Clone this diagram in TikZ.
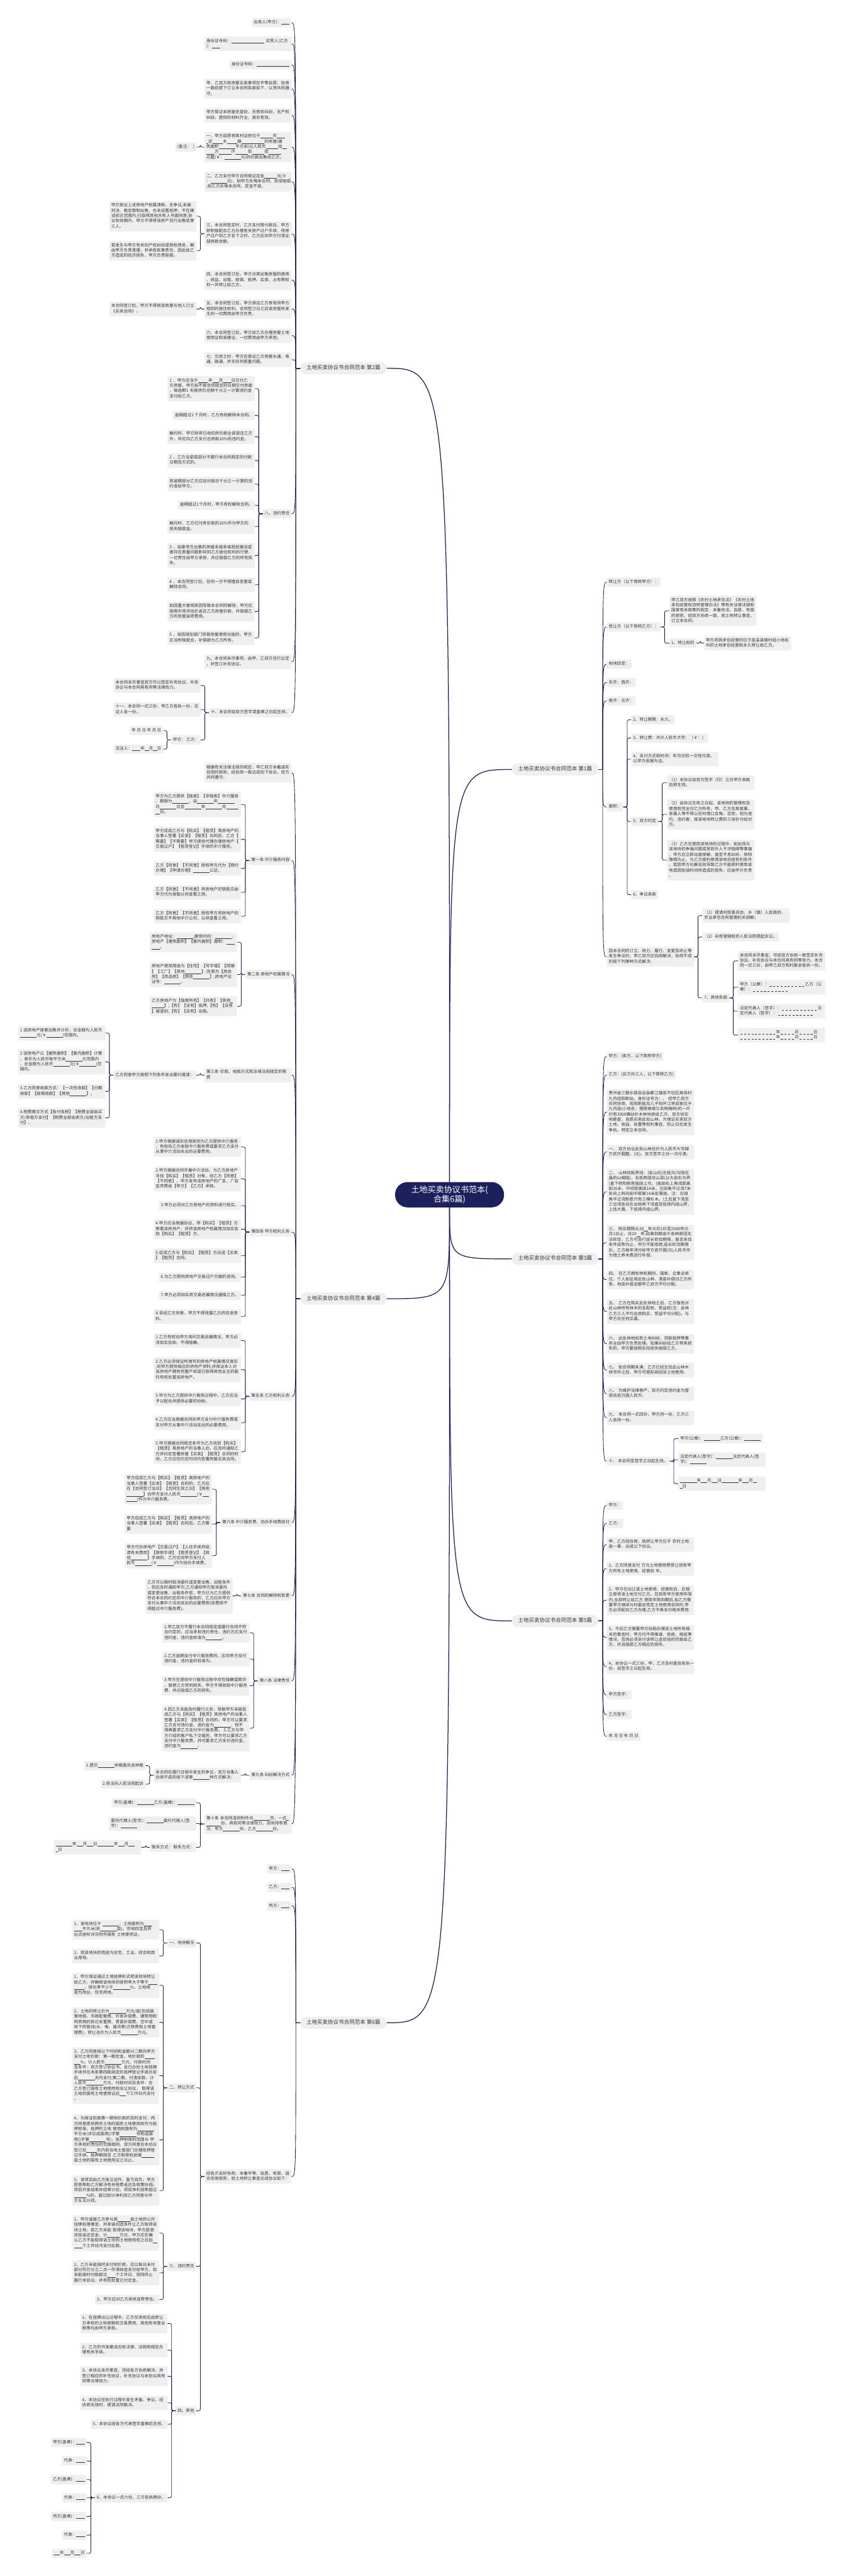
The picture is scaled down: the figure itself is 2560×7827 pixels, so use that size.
\documentclass[tikz,border=0pt]{standalone}
\usepackage{fontspec}
\setmainfont{Noto Sans CJK SC}
\setlength{\parindent}{0pt}
\definecolor{navy}{RGB}{28,33,94}
\definecolor{boxgray}{RGB}{239,239,239}
\definecolor{ink}{RGB}{51,51,51}
\newdimen\bkw \bkw=6.3pt
\newcommand{\bk}[1]{\rule[-1.8pt]{#1\bkw}{0.7pt}}
\newcommand{\dk}[1]{\mbox{\leaders\hbox to 11pt{\hss\rule[-1.8pt]{6pt}{0.7pt}\hss}\hskip #1\dimexpr 11pt\relax}}
\begin{document}
\begin{tikzpicture}[x=1pt,y=1pt,yscale=-1,
  every node/.style={text=ink},
  leaf/.style={fill=boxgray, rounded corners=4pt, inner xsep=6pt, inner ysep=6pt, align=left,
    font=\fontsize{12.6}{16}\selectfont, execute at begin node=\strut, execute at end node=\strut},
  para/.style={leaf, text width=253pt},
  tagl/.style={leaf, anchor=east}, tagr/.style={leaf, anchor=west},
  txtl/.style={para, anchor=east}, txtr/.style={para, anchor=west},
  sect/.style={fill=boxgray, rounded corners=18pt, inner xsep=19pt, inner ysep=8.5pt,
    font=\fontsize{16.3}{20}\selectfont, execute at begin node=\strut, execute at end node=\strut},
  root/.style={fill=navy, text=white, rounded corners=38pt, minimum width=331pt, minimum height=77pt,
    align=center, font=\fontsize{25}{30}\selectfont},
  lk/.style={draw=navy, line width=1.6pt},
  brk/.style={lk, rounded corners=5pt},
  trunk/.style={draw=navy, line width=2.4pt}]

\fill[white] (0,0) rectangle (2560,7827);
\useasboundingbox (0,0) rectangle (2560,7827);

% Text Node
\node[root] (root) at (1365.5,3630) {土地买卖协议书范本(\\合集6篇)};
\node[sect] (p2) at (1043,1119) {土地买卖协议书合同范本 第2篇};
\node[sect] (p4) at (1043,3946) {土地买卖协议书合同范本 第4篇};
\node[sect] (p6) at (1043,6146) {土地买卖协议书合同范本 第6篇};
\node[sect] (p1) at (1686,2338) {土地买卖协议书合同范本 第1篇};
\node[sect] (p3) at (1686,3825) {土地买卖协议书合同范本 第3篇};
\node[sect] (p5) at (1686,4925) {土地买卖协议书合同范本 第5篇};

% ---- 第2篇
\node[tagl] (p2a) at (886,69) {出卖人(甲方)：\bk{4}};
\node[txtl] (p2b) at (886,133) {身份证号码：\bk{16}~买受人(乙方\\)：\bk{4}};
\node[tagl] (p2c) at (886,197) {身份证号码：\bk{16}};
\node[txtl] (p2d) at (886,270) {甲、乙双方就房屋买卖事项在平等自愿，协商\\一致前提下订立本合同条款如下，以资共同遵\\守。};
\node[txtl] (p2e) at (886,350.5) {甲方保证本房屋无查封、无债务纠纷，无产权\\纠纷，提供的材料齐全、真实有效。};
\node[txtl] (p2f) at (886,447) {一、甲方自愿将其村证房位于\bk{6}市\bk{4}\\\bk{1}区\bk{5}乡\bk{5}路\bk{11}的房屋(建\\筑面积\bk{8}平方米)以人民币\bk{6}拾\bk{2}\\\bk{4}万\bk{6}仟\bk{6}佰\bk{6}拾\bk{6}\\元整(￥：\bk{8}元)的价款出售给乙方。};
\node[tagl] (p2fa) at (597,447) {(备注：~~)};
\node[txtl] (p2g) at (886,552) {二、乙方支付甲方合同保证定金\bk{6}元(￥\\：\bk{8}元)，如甲方反悔本合同，双倍赔偿\\;如乙方反悔本合同，定金不退。};
\node[txtl] (p2h) at (886,710.5) {三、本合同签定时，乙方支付首付款后，甲方\\即积极配合乙方办理有关房产过户手续，待房\\产过户到乙方名下之时，乙方应向甲方付清全\\部房款余额。};
\node[txtl] (p2ha) at (597,657) {甲方保证上述房地产权属清晰，无争议;未被\\判决、裁定限制出售，也未设置抵押，不在建\\设拆迁范围内;已取得其他共有人书面同意;协\\议有效期内，甲方不得将该房产另行出售给第\\三人。};
\node[txtl] (p2hb) at (597,762) {若发生与甲方有关的产权纠纷或债权债务，概\\由甲方负责清理，并承担民事责任，因此给乙\\方造成的经济损失，甲方负责赔偿。};
\node[txtl] (p2i) at (886,851) {四、本合同签订后，甲方对其出售房屋的使用\\、收益、出租、担保、抵押、买卖、占有等权\\利一并转让给乙方。};
\node[txtl] (p2j) at (886,939) {五、本合同签订后，甲方保证乙方享有同甲方\\相同的居住权利，合同签订日之后该房屋所发\\生的一切费用由甲方负责。};
\node[txtl] (p2ja) at (597,939) {本合同签订后，甲方不得就该房屋与他人订立\\《买卖合同》。};
\node[txtl] (p2k) at (886,1020) {六、本合同签订后，甲方给乙方办理房屋土地\\使用证和准建证，一切费用由甲方承担。};
\node[txtl] (p2l) at (886,1093) {七、交房之时，甲方应保证乙方房屋水通，电\\通，路通，并无任何质量问题。};
\node[tagl] (p2m) at (886,1561) {八、违约责任};
\node[txtl] (p2ma) at (774,1181) {1~、甲方应当于\bk{5}年\bk{3}月\bk{4}日交付乙\\方房屋，甲方如不按合同规定的日期交付房屋\\，每逾期1~天按房价总额千分之一计算违约金\\支付给乙方。};
\node[tagl] (p2mb) at (774,1262) {逾期超过1~个月时，乙方有权解除本合同。};
\node[txtl] (p2mc) at (774,1327) {解约时，甲方除将已收的房价款全部退还乙方\\外，并应向乙方支付总房款10\%的违约金。};
\node[txtl] (p2md) at (774,1399) {2~、乙方全部或部分不履行本合同规定的付款\\日期及方式的。};
\node[txtl] (p2me) at (774,1471) {其逾期部分乙方应加付按日千分之一计算的违\\约金给甲方。};
\node[tagl] (p2mf) at (774,1535) {逾期超过1个月时，甲方有权解除合同。};
\node[txtl] (p2mg) at (774,1600) {解约时，乙方已付房价款的10\%作为甲方的\\损失赔偿金。};
\node[txtl] (p2mh) at (774,1688) {3~、如果甲方出售的房屋未按承诺规划建设或\\者存在质量问题影响到乙方居住权利的行使，\\一切责任由甲方承担，并应赔偿乙方的所有损\\失。};
\node[txtl] (p2mi) at (774,1777) {4~、本合同签订后，任何一方不得擅自变更或\\解除合同。};
\node[txtl] (p2mj) at (774,1858) {如因重大客观原因导致本合同的解除，甲方应\\按照市场评估价返还乙方房屋价款，并赔偿乙\\方的房屋装修费用。};
\node[txtl] (p2mk) at (774,1938) {5~、如因规划部门导致房屋使用功能的，甲方\\应当积极配合，补偿款为乙方所有。};
\node[txtl] (p2n) at (886,2011) {九、本合同未尽事项，由甲、乙双方另行议定\\，并签订补充协议。};
\node[tagl] (p2o) at (886,2165.5) {十、本合同自双方签字或盖章之日起生效。};
\node[txtl] (p2oa) at (610,2083) {本合同未尽事宜双方可以签定补充协议，补充\\协议与本合同具有同等法律效力。};
\node[txtl] (p2ob) at (610,2156) {十一、本合同一式三份，甲乙方各执一份，见\\证人各一份。};
\node[tagl] (p2oc) at (610,2248) {甲方：~乙方：};
\node[tagl] (p2oca) at (496,2220) {年~月~日~年~月~日};
\node[tagl] (p2ocb) at (496,2276) {见证人：\bk{4}年\bk{2}月\bk{2}日};

% ---- 第1篇
\node[tagr] (p1a) at (1843,1769) {转让方（以下简称甲方）：};
\node[tagr] (p1b) at (1843,1905) {受让方（以下简称乙方）：};
\node[txtr] (p1ba) at (2033,1856) {甲乙双方按照《农村土地承包法》《农村土地\\承包经营权流转管理办法》等有关法律法规和\\国家有关政策的规定，本着依法、自愿、有偿\\的原则，经双方协商一致，就土地转让事宜，\\订立本合同。};
\node[tagr] (p1bb) at (2033,1954) {1、转让标的};
\node[txtr] (p1bba) at (2138,1954) {甲方将其承包经营的位于巫溪县镇村组小地名\\叫的土地承包经营权永久转让给乙方。};
\node[tagr] (p1c) at (1843,2018) {地块四至：};
\node[tagr] (p1d) at (1843,2074) {东齐：西齐：};
\node[tagr] (p1e) at (1843,2130) {南齐：北齐：};
\node[tagr] (p1f) at (1843,2452) {面积：};
\node[tagr] (p1fa) at (1917,2187) {2、转让期限：永久。};
\node[tagr] (p1fb) at (1917,2242.6) {3、转让费：共计人民币大写：（￥：）};
\node[txtr] (p1fc) at (1917,2306.5) {4、支付方式和时间：年月日前一次性付清。\\以甲方收据为证。};
\node[tagr] (p1fd) at (1917,2496) {5、双方约定};
\node[txtr] (p1fda) at (2026,2378.5) {（1）本协议自双方签字（印）之日甲方收款\\后即生效。};
\node[txtr] (p1fdb) at (2026,2474.5) {（2）自协议生效之日起，该地块的管理权及\\使用权完全归乙方所有，甲、乙方及其家属、\\亲属人等不得以任何借口反悔，否则，视为违\\约。违约者，按该地块转让费的三倍价付给对\\方。};
\node[txtr] (p1fdc) at (2026,2613.5) {（3）乙方在使用该地块的过程中，如出现与\\该地块的争端问题或受到外人干涉阻碍等事端\\，甲方应立即出面排解，直至平息纠纷，排除\\障碍为止，为乙方顺利使用该地创造有利条件\\。若因甲方化解无效导致乙方不能顺利使用该\\地或因贻误时间所造成的损失，应由甲方负责\\。};
\node[tagr] (p1fe) at (1917,2718.5) {6、争议条款};
\node[txtr] (p1g) at (1843,2907) {因本合同的订立、效力、履行、变更及终止等\\发生争议时，甲乙双方应协商解决，协商不成\\的按下列第种方式解决：};
\node[txtr] (p1ga) at (2133,2782) {（1）提请村民委员会、乡（镇）人民政府、\\农业承包合同管理机关调解；};
\node[tagr] (p1gb) at (2133,2847) {（2）向有管辖权的人民法院提起诉讼。};
\node[tagr] (p1gc) at (2133,3032) {7、其他条款};
\node[txtr] (p1gca) at (2241,2919.6) {本合同未尽事宜，可经双方协商一致签定补充\\协议。补充协议与本合同具有同等效力。本合\\同一式三份，由甲乙双方和村委会各执一份。};
\node[txtr] (p1gcb) at (2241,2999.6) {甲方（公章）：\dk{10}乙方（公\\章）：\dk{10}};
\node[txtr] (p1gcc) at (2241,3072.6) {法定代表人（签字）：\dk{10}法\\定代表人（签字）：\dk{10}};
\node[txtr] (p1gcd) at (2241,3145) {\dk{10}年\dk{4}月\dk{4}日\\\dk{10}年\dk{4}月\dk{4}日};

% ---- 第3篇
\node[tagr] (p3a) at (1843,3210) {甲方：(卖方，以下简称甲方)};
\node[tagr] (p3b) at (1843,3266) {乙方：(买方共三人，以下简称乙方)};
\node[txtr] (p3c) at (1843,3379) {贵州省三都水族自治县都江镇巫不社区高尧村\\九内组阳新灿，身份证号为：。~经甲乙双方\\共同协商，现阳新能及儿子阳开江将自家位于\\九内组(小地名：摆磅高坡又名杨梅树)的一片\\约有3000棵幼杉木林地卖给乙方，双方经实\\地勘查，自愿买卖此处山林。为保证买卖双方\\土地，收益、处置等权利事宜，防止日后发生\\争执，特定立本合同。};
\node[txtr] (p3d) at (1843,3500) {一、~双方协议此处山林总价为人民币大写肆\\万贰仟圆整。(元)。双方签字之日一次付清。};
\node[txtr] (p3e) at (1843,3621) {二、~山林四抵界线：(坐山向)左抵沟(与阳志\\晶的山相临)，右抵两组坟山梁(以大岩石为界\\)直下转阳新恩独田上坎，(独田右上角湾距离\\田16米，中间距离田14米，左田角平过湾7米\\处向上斜向田中距离14米处靠拢。注：左田\\角平过湾新恩只有三棵杉木。)之后直下湾至\\三岔湾处向左出坳再下湾直至抵排内组山界，\\上抵大路，下抵排内组山界。};
\node[txtr] (p3f) at (1843,3775.6) {三、~购买期限从20\bk{2}年元月1日至2040年元\\月1日止，共20\bk{2}年;如果到期由于各种原因无\\法砍伐，乙方可自行延长砍伐期限，直至采伐\\条件成熟为止，甲方不能拒绝;延长砍伐期限\\后，乙方每年须付给甲方贰仟圆(元)人民币作\\为借土养木费进行补偿。};
\node[txtr] (p3g) at (1843,3888) {四、~在乙方拥有林权期间，国家、企事业单\\位、个人如征用此处山林，清苗补偿归乙方所\\有。地皮补偿总额甲乙双方平均分配。};
\node[txtr] (p3h) at (1843,3985) {五、~乙方在购买此处林地之后，乙方独有对\\此山林所有林木的支配权、受益权(注：此林\\乙方三人平均出资购买，受益平均分配)。与\\甲方无任何瓜葛。};
\node[txtr] (p3i) at (1843,4083) {六、~此处林地如有土地纠纷，贷款抵押等事\\务全由甲方负责处理。如果纠纷给乙方带来损\\失的，甲方要按照实际损失赔偿乙方。};
\node[txtr] (p3j) at (1843,4163) {七、~如合同期未满，乙方已经主伐此山林木\\材完毕之后，甲方可提前收回该土地使用。};
\node[txtr] (p3k) at (1843,4234.6) {八、~为维护法律尊严，双方约定违约金为壹\\佰伍拾万圆人民币。};
\node[txtr] (p3l) at (1843,4307.6) {九、~本合同一式四份，甲方持一份，乙方三\\人各持一份。};
\node[tagr] (p3m) at (1843,4439.6) {十、~本合同至签字之日起生效。};
\node[tagr] (p3ma) at (2060,4371) {甲方(公章)：\bk{8}乙方(公章)：\bk{8}};
\node[txtr] (p3mb) at (2060,4435) {法定代表人(签字)：\bk{8}法定代表人(签\\字)：\bk{8}};
\node[txtr] (p3mc) at (2060,4508) {\bk{8}年\bk{3}月\bk{3}日\bk{8}年\bk{3}月\bk{2}\\\bk{1}日};

% ---- 第5篇
\node[tagr] (p5a) at (1843,4574) {甲方：};
\node[tagr] (p5b) at (1843,4629) {乙方：};
\node[txtr] (p5c) at (1843,4693) {甲、乙方经协商，就转让甲方位于~农村土地\\亩一事，达成以下协议。};
\node[txtr] (p5d) at (1843,4766) {1、乙方同意支付~万元土地使用费受让现有甲\\方所有土地使用、经营权~年。};
\node[txtr] (p5e) at (1843,4862) {2、甲方在出让该土地使用、经营权后，应按\\立即将该土地交付乙方。在现有甲方使用年限\\内,全部转让给乙方.使用年限到期后,如乙方需\\要甲方继续与村委会签定土地使用合同时,甲\\方必须配合乙方办理,乙方不再支付相关费用.};
\node[txtr] (p5f) at (1843,4975) {3、今后乙方需要甲方协助办理该土地所有相\\关的事宜时，甲方均不得推诿、拒绝、拖延等\\情况，否则必须支付该转让金双倍的罚款给乙\\方，并且赔偿乙方相应的损失。};
\node[txtr] (p5g) at (1843,5064) {4、本协议一式三份，甲、乙方及村委会各执一\\份，自签字之日起生效。};
\node[tagr] (p5h) at (1843,5150) {甲方签字：};
\node[tagr] (p5i) at (1843,5210) {乙方签字：};
\node[tagr] (p5j) at (1843,5276) {年~月~日~年~月~日};

% ---- 第4篇
\node[txtl] (p4a) at (886,2348) {根据有关法律法规的规定，甲乙双方本着诚实\\信用的原则，经协商一致达成如下协议，双方\\共同遵守。};
\node[tagl] (p4b) at (886,2614.5) {第一条 中介服务内容};
\node[txtl] (p4ba) at (732,2444.6) {甲方为乙方提供【独家】【非独家】中介服务\\，期限为\bk{8}，自\bk{8}年\bk{8}\\月\bk{8}日至\bk{8}年\bk{8}月\bk{6}\\\bk{2}日。};
\node[txtl] (p4bb) at (732,2550) {甲方促成乙方与【购买】【租赁】其房地产的\\当事人签署【买卖】【租赁】合同后，乙方【\\需要】【不需要】甲方提供代理办理房地产【\\交易过户】【租赁登记】手续的中介服务。};
\node[txtl] (p4bc) at (732,2638.6) {乙方【同意】【不同意】授权甲方代为【预约\\办理】【申请办理】\bk{8}公证。};
\node[txtl] (p4bd) at (732,2711.6) {乙方【同意】【不同意】将房地产的钥匙交由\\甲方代为保管以供查看之用。};
\node[txtl] (p4be) at (732,2784) {乙方【同意】【不同意】授权甲方将房地产的\\钥匙交予其他中介公司，以供查看之用。};
\node[tagl] (p4c) at (886,2961) {第二条 房地产权属情况};
\node[txtl] (p4ca) at (720,2863) {房地产地址：\bk{8};建筑时间：\bk{8};\\房地产【建筑面积】【套内面积】面积：\bk{4}\\\bk{4}。};
\node[txtl] (p4cb) at (720,2961) {房地产使用用途为【住宅】【写字楼】【商铺\\】【工厂】【其他\bk{8}】;性质为【房改\\房】【商品房】【其他\bk{8}】;房地产证\\证号：\bk{8}。};
\node[txtl] (p4cc) at (720,3057.6) {乙方房地产为【独家所有】【共有】【其他\bk{1}\\\bk{6}】;【有】【没有】抵押;【有】【没有\\】被查封;【有】【没有】出租。};
\node[txtl] (p4d) at (886,3266.6) {第三条 价款、收款方式和法律法规规定的税\\费};
\node[tagl] (p4da) at (596,3266.6) {乙方同意甲方按照下列条件发出要约邀请：};
\node[txtl] (p4daa) at (320,3139) {1.该房地产按套出售并计价，总金额为人民币\\\bk{8}元(￥\bk{8})范围内。};
\node[txtl] (p4dab) at (320,3226.6) {2.该房地产以【建筑面积】【套内面积】计算\\，单价为人民币每平方米\bk{8}元范围内\\，总金额为人民币\bk{8}元(￥\bk{8})范\\围内。};
\node[txtl] (p4dac) at (320,3316) {3.乙方同意收款方式：【一次性收款】【分期\\收款】【按揭收款】【其他\bk{8}】。};
\node[txtl] (p4dad) at (320,3396.6) {4.税费缴交方式【各付各税】【税费全部由买\\方/承租方支付】【税费全部由卖方/出租方支\\付】。};
\node[tagl] (p4e) at (886,3743.6) {第四条 甲方权利义务};
\node[txtl] (p4ea) at (732,3485) {1.甲方根据诚实信用原则为乙方提供中介服务\\，有权向乙方收取中介服务费或要求乙方支付\\从事中介活动支出的必要费用。};
\node[txtl] (p4eb) at (732,3582) {2.甲方根据合同开展中介活动，为乙方房地产\\寻找【购买】【租赁】对象，经乙方【同意】\\【不同意】，甲方发布该房地产的广告，广告\\宣传费由【甲方】【乙方】承担。};
\node[tagl] (p4ec) at (732,3663) {3.甲方必须对乙方房地产的资料进行核实。};
\node[txtl] (p4ed) at (732,3735) {4.甲方应当根据协议，带【购买】【租赁】方\\察看该房地产，并将该房地产权属情况如实告\\知【购买】【租赁】方。};
\node[txtl] (p4ee) at (732,3815.5) {5.促成乙方与【购买】【租赁】方达成【买卖\\】【租赁】合同。};
\node[tagl] (p4ef) at (732,3880.6) {6.为乙方提供房地产交易过户方面的咨询。};
\node[tagl] (p4eg) at (732,3936) {7.甲方必须如实将交易进展情况通报乙方。};
\node[txtl] (p4eh) at (732,4000) {8.非经乙方同意，甲方不得泄露乙方的信息资\\料。};
\node[tagl] (p4f) at (886,4242.6) {第五条 乙方权利义务};
\node[txtl] (p4fa) at (732,4073) {1.乙方有权向甲方询问交易进展情况，甲方必\\须如实告知，不得隐瞒。};
\node[txtl] (p4fb) at (732,4161.7) {2.乙方必须保证所填写的房地产权属情况真实\\;向甲方提供相应的房地产资料;并保证本人对\\该房地产拥有完整产权或已取得其他业主的委\\托有权处置该房地产。};
\node[txtl] (p4fc) at (732,4250.5) {3.甲方为乙方提供中介服务过程中，乙方应当\\予以配合并提供必要的协助。};
\node[txtl] (p4fd) at (732,4323) {4.乙方应当根据合同向甲方支付中介服务费或\\支付甲方从事中介活动支出的必要费用。};
\node[txtl] (p4fe) at (732,4410.6) {5.甲方根据合同规定条件为乙方找到【购买】\\【租赁】其房地产的当事人后，应及时通知乙\\方并约定签署房屋【买卖】【租赁】合同的时\\间，乙方应在约定时间内签署房屋买卖合同。};
\node[tagl] (p4g) at (886,4626) {第六条 中介服务费、协办手续费给付};
\node[txtl] (p4ga) at (644,4525) {甲方促成乙方与【购买】【租赁】其房地产的\\当事人签署【买卖】【租赁】合同的，乙方应\\在【合同签订当日】【合同生效之日】【其他\\\bk{8}】向甲方支付人民币\bk{8}(￥\bk{3}\\\bk{5})作为中介服务费。};
\node[txtl] (p4gb) at (644,4630.6) {甲方促成乙方与【购买】【租赁】其房地产的\\当事人签署【买卖】【租赁】合同后，乙方需\\要};
\node[txtl] (p4gc) at (644,4727) {甲方代办房地产【交易过户】【入住手续并结\\清有关费用】【赎契手续】【租赁登记】【其\\他\bk{8}】手续的，乙方应向甲方支付人\\民币\bk{8}(￥\bk{8})作为协办手续费。};
\node[tagl] (p4h) at (886,4849) {第七条 合同的解除和变更};
\node[txtl] (p4ha) at (707,4849) {乙方可以随时取消委托或变更出售、出租条件\\，但应及时通知甲方;乙方通知甲方取消委托\\或变更出售、出租条件前，甲方已为乙方提供\\符合本合同约定的中介服务的，乙方应向甲方\\支付从事中介活动支出的必要费用(该费用不\\得超过中介服务费)。};
\node[tagl] (p4i) at (886,5107) {第八条 法律责任};
\node[txtl] (p4ia) at (758,4961) {1.甲乙双方不履行本合同规定或履行合同不符\\合约定的，应当承担违约责任，违约方应支付\\违约金，违约金标准为\bk{8}。};
\node[txtl] (p4ib) at (758,5041) {2.乙方逾期支付中介服务费的，应向甲方支付\\违约金，违约金的标准为。};
\node[txtl] (p4ic) at (758,5122) {3.甲方在提供中介服务过程中存在隐瞒或欺诈\\，致使乙方受到损失，甲方不得收取中介服务\\费，并应赔偿乙方的损失。};
\node[txtl] (p4id) at (758,5251) {4.因乙方未能及时履行义务，导致甲方未能促\\成乙方与【购买】【租赁】其房地产的当事人\\签署【买卖】【租赁】合同的，甲方可以要求\\乙方支付违约金，违约金为\bk{8}，但不\\得再要求乙方支付中介服务费。~5.乙方与甲\\方介绍的客户私下交易的，甲方可以要求乙方\\支付中介服务费，并可要求乙方支付违约金，\\违约金为\bk{8}。};
\node[tagl] (p4j) at (886,5394) {第九条 纠纷解决方式};
\node[txtl] (p4ja) at (732,5394) {本合同在履行过程中发生的争议，双方当事人\\协商不成的按下述第\bk{8}种方式解决：};
\node[tagl] (p4jaa) at (442,5365) {1.提交\bk{8}仲裁委员会仲裁};
\node[tagl] (p4jab) at (442,5421) {2.依法向人民法院起诉};
\node[txtl] (p4k) at (886,5542) {第十条 本合同连同附件共\bk{8}页，一式\bk{1}\\\bk{7}份，具有同等法律效力，合同持有情\\况：甲方\bk{8}份，乙方\bk{8}份。};
\node[tagl] (p4ka) at (596,5478) {甲方(盖章)：\bk{8}乙方(盖章)：\bk{8}};
\node[txtl] (p4kb) at (596,5540.6) {委托代理人(签字)：\bk{8}委托代理人(签\\字)：\bk{8}};
\node[tagl] (p4kc) at (596,5613) {联系方式：~联系方式：};
\node[txtl] (p4kca) at (429,5613) {\bk{8}年\bk{3}月\bk{3}日\bk{8}年\bk{3}月\bk{3}\\\bk{1}日};

% ---- 第6篇
\node[tagl] (p6a) at (886,5678.6) {甲方：\bk{4}};
\node[tagl] (p6b) at (886,5734.7) {乙方：\bk{4}};
\node[tagl] (p6c) at (886,5791) {丙方：\bk{4}};
\node[txtl] (p6d) at (886,6613) {经各方友好协商，本着平等、自愿、有偿、诚\\实信用原则，就土地转让事宜达成协议如下：};
\node[tagl] (p6da) at (596,5903.6) {一、地块概况};
\node[txtl] (p6daa) at (484,5863) {1、该地块位于~\bk{8}，土地面积为\bk{4}\\\bk{4}平方米(折\bk{8}亩)。宗地四至及界\\址点座标详见附件国有~土地使用证。};
\node[txtl] (p6dab) at (484,5943) {2、现该地块的用途为住宅、工业、综合和商\\业用地。};
\node[tagl] (p6db) at (596,6343.6) {二、转让方式};
\node[txtl] (p6dba) at (484,6032) {1、甲方保证通过土地挂牌形式把该地块转让\\给乙方，并确保该地块的容积率大于等于\bk{4}\\\bk{5}，绿化率不少于\bk{8}\%，土地用\\途为商业、住宅用地。};
\node[txtl] (p6dbb) at (484,6144.6) {2、土地的转让价为\bk{8}万元/亩[包括级\\差地租、市政配套费、开发补偿费、建筑物和\\构筑物的拆迁安置费、青苗补偿费、空中或\\地下的管线(水、电、通讯等)迁移费和土地管\\理费]，转让总价为人民币\bk{8}万元。};
\node[txtl] (p6dbc) at (484,6306.7) {3、乙方同意按以下时间和金额分二期向甲方\\支付土地价款：第一期定金，地价款的\bk{5}\\\bk{3}\%，计人民币\bk{8}万元，付款时间\\及条件：双方签订协议书，且已办好土地挂牌\\手续并在本条第四款规定的抵押登记手续办妥\\后\bk{8}天内支付;第二期，付清余款，计\\人民币\bk{8}万元，付款时间及条件：在\\乙方签订国有土地使用权出让协议，~取得该\\土地的国有土地使用证后\bk{3}个工作日内支付\\。};
\node[txtl] (p6dbd) at (484,6502) {4、为保证前款第一期地价款的及时支付，丙\\方同意提供两宗土地的国有土地使用权作为抵\\押担保，抵押的土地~使用权面积为\bk{8}\\平方米(详见成国用()字第\bk{8}号和成国\\用()字第\bk{8}号)，抵押担保的范围与~甲\\方承担的责任的范围相同。双方同意在本协议\\签订后\bk{5}天内到当地土管部门办理抵押登\\记手续，抵押期限至~乙方取得机投镇\bk{6}\\亩土地的国有土地使用证之日止。};
\node[txtl] (p6dbe) at (484,6656) {5、该项目由乙方独立运作，盈亏自负。甲方\\愿意帮助乙方解决有关税费返还及政策协调。\\项目开发结束并经审计后，项目净利润率超过\\\bk{6}\%的，超过部分净利润乙方同意与甲\\方五五分成。};
\node[tagl] (p6dc) at (596,6886) {三、违约责任};
\node[txtl] (p6dca) at (484,6785) {1、甲方诚邀乙方参与其\bk{6}亩土地的公开\\挂牌处理事宜，并承诺创造条件让乙方取得该\\块土地，若乙方未能~取得该地块，甲方愿意\\双倍返还定金，计\bk{6}万元，甲方应在确\\认乙方不能取得该土块的土地使用权之日起\bk{2}\\\bk{4}个工作日内支付此款。};
\node[txtl] (p6dcb) at (484,6906) {2、乙方未能按时支付地价款，应以每日未付\\部分的万分之二点一作滞纳金支付给甲方。如\\未能按时付款超过\bk{4}个工作日，视同终止\\履行本协议，并有权处置已付定金。};
\node[tagl] (p6dcc) at (484,6987) {3、甲方应对乙方承担连带责任。};
\node[tagl] (p6dd) at (596,7325) {四、其他};
\node[txtl] (p6dda) at (509,7060) {1、在挂牌出让过程中，乙方仅承担应由受让\\方承担的土地契税和交易费用，其他有关营业\\税等均由甲方承担。};
\node[txtl] (p6ddb) at (509,7140.6) {2、乙方的开发建设应依法律、法规和规定办\\理有关手续。};
\node[txtl] (p6ddc) at (509,7220) {3、本协议未尽事宜，须经各方协商解决，并\\签订相应的补充协议，补充协议与本协议具有\\同等法律效力。};
\node[txtl] (p6ddd) at (509,7301) {4、本协议在执行过程中发生矛盾、争议，经\\协商无效时，提请法院裁决。};
\node[tagl] (p6dde) at (509,7366) {5、本协议经各方代表签字盖章后生效。};
\node[tagl] (p6ddf) at (509,7589) {6、本协议一式六份，三方各执两份。};
\node[tagl] (p6ddfa) at (263.5,7421) {甲方(盖章)：\bk{4}};
\node[tagl] (p6ddfb) at (263.5,7477.5) {代表：\bk{4}};
\node[tagl] (p6ddfc) at (263.5,7534) {乙方(盖章)：\bk{4}};
\node[tagl] (p6ddfd) at (263.5,7589.6) {代表：\bk{4}};
\node[tagl] (p6ddfe) at (263.5,7646) {丙方(盖章)：\bk{4}};
\node[tagl] (p6ddff) at (263.5,7703) {代表：\bk{4}};
\node[tagl] (p6ddfg) at (263.5,7758) {\bk{3}年\bk{3}月\bk{3}日};

% Curves from the root
\draw[trunk] (root.north) .. controls (root.north |- p2.east) .. (p2.east);
\draw[trunk] (root.north) .. controls (root.north |- p1.west) .. (p1.west);
\draw[trunk] (root.south) .. controls (root.south |- p4.east) .. (p4.east);
\draw[trunk] (root.south) .. controls (root.south |- p6.east) .. (p6.east);
\draw[trunk] (root.south) .. controls (root.south |- p3.west) .. (p3.west);
\draw[trunk] (root.south) .. controls (root.south |- p5.west) .. (p5.west);

% Section to first level
\foreach \p/\cs in {p2/{a,b,c,d,e,f,g,h,i,j,k,l,m,n,o}, p4/{a,b,c,d,e,f,g,h,i,j,k}, p6/{a,b,c,d}} {
  \coordinate (s) at ([xshift=-13pt]\p.west);
  \foreach \c in \cs
    \draw[lk] (\p.west) -- (s) .. controls (s |- \p\c.east) .. (\p\c.east);
}
\foreach \p/\cs in {p1/{a,b,c,d,e,f,g}, p3/{a,b,c,d,e,f,g,h,i,j,k,l,m}, p5/{a,b,c,d,e,f,g,h,i,j}} {
  \coordinate (s) at ([xshift=13pt]\p.east);
  \foreach \c in \cs
    \draw[lk] (\p.east) -- (s) .. controls (s |- \p\c.west) .. (\p\c.west);
}

% Brackets
\foreach \p/\cs in {p2f/{a}, p2h/{a,b}, p2j/{a}, p2m/{a,b,c,d,e,f,g,h,i,j,k}, p2o/{a,b,c}, p2oc/{a,b},
    p4b/{a,b,c,d,e}, p4c/{a,b,c}, p4d/{a}, p4da/{a,b,c,d}, p4e/{a,b,c,d,e,f,g,h}, p4f/{a,b,c,d,e},
    p4g/{a,b,c}, p4h/{a}, p4i/{a,b,c,d}, p4j/{a}, p4ja/{a,b}, p4k/{a,b,c}, p4kc/{a},
    p6d/{a,b,c,d}, p6da/{a,b}, p6db/{a,b,c,d,e}, p6dc/{a,b,c}, p6dd/{a,b,c,d,e,f}, p6ddf/{a,b,c,d,e,f,g}}
  \foreach \c in \cs
    \draw[brk] (\p.west) -- ++(-12,0) |- (\p\c.east);
\foreach \p/\cs in {p1b/{a,b}, p1bb/{a}, p1f/{a,b,c,d,e}, p1fd/{a,b,c}, p1g/{a,b,c}, p1gc/{a,b,c,d}, p3m/{a,b,c}}
  \foreach \c in \cs
    \draw[brk] (\p.east) -- ++(12,0) |- (\p\c.west);

\end{tikzpicture}
\end{document}
